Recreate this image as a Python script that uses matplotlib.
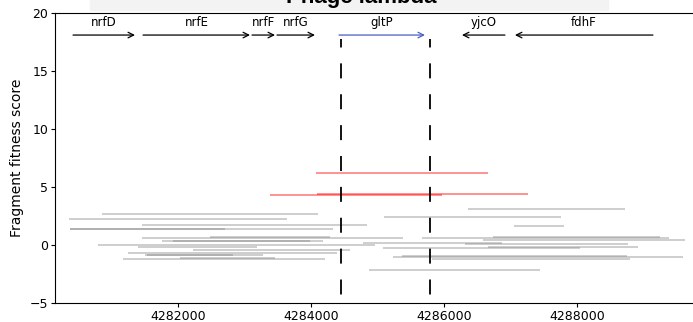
import matplotlib
matplotlib.use("Agg")
from matplotlib import pyplot as plt
from matplotlib.patches import Rectangle

# genes: name, start, end, strand
gene_names = ["nrfD", "nrfE", "nrfF", "nrfG", "gltP", "yjcO", "fdhF"]
gene_begin = [4280421, 4281474, 4283113, 4283489, 4284421, 4286917, 4289143]
gene_end = [4281353, 4283083, 4283459, 4284060, 4285714, 4286271, 4287068]
gene_colors = ["black", "black", "black", "black", "#4a5fc1", "black", "black"]

# boundaries of the gene of interest
focus_bounds = [4284451, 4285789]

# fragments (start, end, fitness)
frag_start = [4280857, 4280361, 4281459, 4280376, 4280376, 4281459, 4282481, 4281759,
              4281925, 4284782, 4280797, 4281398, 4282226, 4281248, 4281504, 4281534,
              4281173, 4282030, 4284873, 4286362, 4285098, 4287053, 4285670, 4286738,
              4286587, 4286316, 4285083, 4286662, 4285234, 4285369, 4285820]
frag_end = [4284106, 4283639, 4284843, 4284331, 4282707, 4285384, 4284286, 4284181,
            4283985, 4286873, 4284963, 4283188, 4284587, 4284391, 4283278, 4282827,
            4284211, 4283459, 4287444, 4288723, 4287760, 4287805, 4289385, 4289249,
            4289625, 4288768, 4288046, 4288918, 4289595, 4288753, 4288798]
frag_score = [2.67, 2.28, 1.72, 1.34, 1.38, 0.60, 0.69, 0.37,
              0.34, 0.17, -0.04, -0.13, -0.47, -0.73, -0.86, -0.82,
              -1.21, -1.16, -2.16, 3.10, 2.39, 1.68, 0.60, 0.66,
              0.41, 0.09, -0.26, -0.15, -1.01, -0.97, -1.21]

# fragments with strong fitness
hit_start = [4284076, 4283384, 4284091]
hit_end = [4286662, 4285971, 4287264]
hit_score = [6.23, 4.27, 4.44]

fig = plt.figure(figsize=(6.93, 3.22), dpi=100)
ax = fig.add_axes([0.0794, 0.059, 0.9206, 0.9006])

# grey band behind the title
fig.patches.append(Rectangle((90 / 693, 1 - 10 / 322), 518 / 693, 10 / 322,
                             transform=fig.transFigure, color="#f3f3f3", zorder=0))
fig.text(0.522, 0.99, "Phage lambda", ha="center", va="baseline",
         fontsize=16, fontweight="bold", family=["Liberation Sans", "DejaVu Sans"])

ax.hlines(frag_score, frag_start, frag_end, colors="gray", alpha=0.45, lw=1.2)
ax.hlines(hit_score, hit_start, hit_end, colors="red", alpha=0.5, lw=1.2)

for name, b, e, c in zip(gene_names, gene_begin, gene_end, gene_colors):
    ax.annotate("", xy=(e, 18.1), xytext=(b, 18.1),
                arrowprops=dict(arrowstyle="->", color=c, lw=0.9, shrinkA=0, shrinkB=0))
    ax.text((b + e) / 2, 19.15, name, ha="center", va="center", fontsize=8.5)

for xb in focus_bounds:
    ax.plot([xb, xb], [17.8, -5], color="black", lw=1.3,
            linestyle=(3.6, (8.3, 8.8)))

ax.set_xlim(4280150, 4289746)
ax.set_ylim(-5, 20)
ax.set_xticks([4282000, 4284000, 4286000, 4288000])
ax.set_xticklabels(["4282000", "4284000", "4286000", "4288000"])
ax.set_yticks([-5, 0, 5, 10, 15, 20])
ax.tick_params(labelsize=9, length=3, pad=2)
ax.spines["right"].set_visible(False)
ax.set_ylabel("Fragment fitness score", fontsize=10, labelpad=4)

fig.savefig("out.png", dpi=100)
